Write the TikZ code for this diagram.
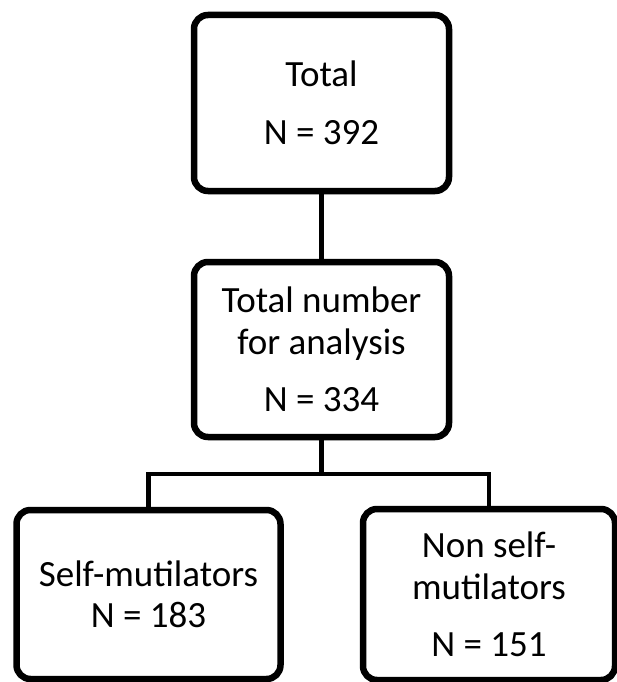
\documentclass[tikz,border=0pt]{standalone}
\usepackage{fontspec}
\setmainfont{Carlito}
\usetikzlibrary{shadows}
\begin{document}
\begin{tikzpicture}[x=1pt,y=-1pt,
  box/.style={draw=black, line width=6.5pt, rounded corners=14pt, fill=white,
    align=center, font=\fontsize{37}{41.5}\selectfont, inner sep=0pt,
    drop shadow={shadow xshift=2pt, shadow yshift=-3pt, opacity=0.25, fill=gray}},
  conn/.style={line width=4.5pt}]
\useasboundingbox (0,0) rectangle (616,682);
\fill[white] (0,0) rectangle (616,682);
\node[box, minimum width=255pt, minimum height=176pt] (total) at (321.5,103) {Total\\[16pt]N = 392};
\node[box, minimum width=255pt, minimum height=175pt] (analysis) at (321.5,349.5) {Total number\\for analysis\\[16pt]N = 334};
\node[box, minimum width=264pt, minimum height=169pt] (self) at (148.5,594.5) {Self-mutilators\\N = 183};
\node[box, minimum width=252pt, minimum height=171pt] (nonself) at (489,594.5) {Non self-\\mutilators\\[16pt]N = 151};
\coordinate (split) at (analysis.south |- 0,474);
\draw[conn] (total) -- (analysis);
\draw[conn] (analysis.south) -- (split);
\draw[conn] (self.north) |- (split) -| (nonself.north);
\end{tikzpicture}
\end{document}
